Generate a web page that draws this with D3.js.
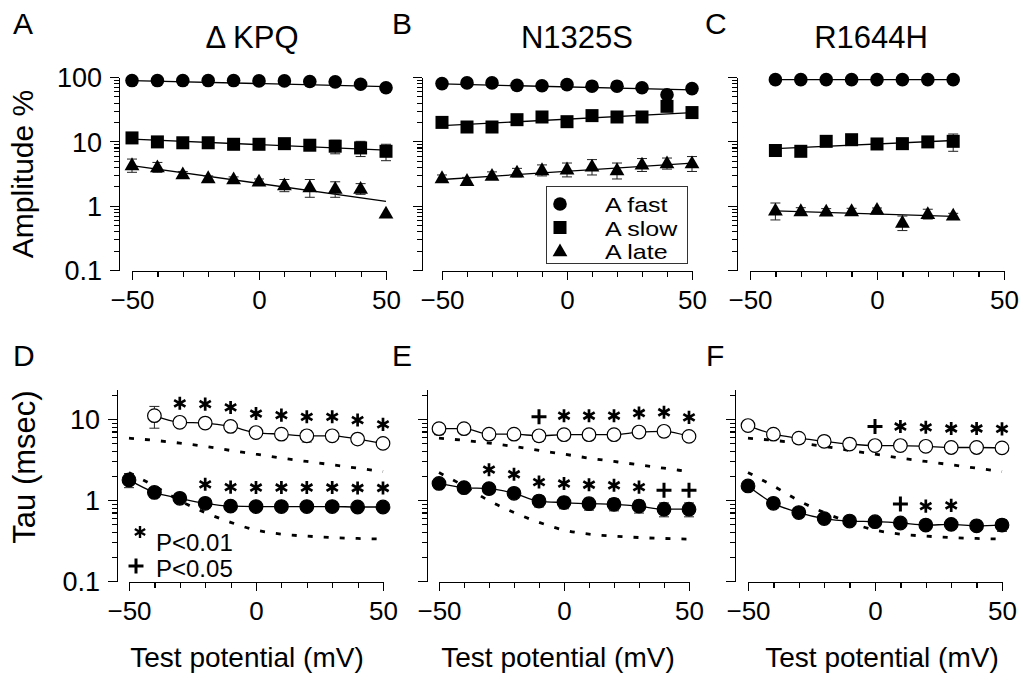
<!DOCTYPE html>
<html>
<head>
<meta charset="utf-8">
<script src="https://cdn.jsdelivr.net/npm/d3@7"></script>
<style>
body { margin: 0; background: #fff; }
svg text { font-family: "Liberation Sans", Arial, Helvetica, sans-serif; fill: #000; }
.axis path, .axis line { stroke: #000; stroke-width: 1.2; shape-rendering: crispEdges; }
</style>
</head>
<body>
<svg id="fig" width="1019" height="681"></svg>
<script>
// test potentials (mV)
var volts = [-50, -40, -30, -20, -10, 0, 10, 20, 30, 40, 50]
var voltsC = [-40, -30, -20, -10, 0, 10, 20, 30]
var voltsFrom40 = [-40, -30, -20, -10, 0, 10, 20, 30, 40, 50]

// amplitudes (%) - dKPQ
var kpqFast = [88, 88, 88, 88, 88, 87, 87, 85, 84, 77, 68]
var kpqFastErr = [0, 0, 0, 0, 0, 0, 0, 0, 0, 0, 0]
var kpqSlow = [11.3, 9.8, 9.5, 9.5, 9.0, 9.0, 9.2, 8.7, 8.4, 7.9, 7.0]
var kpqSlowErr = [1.0, 0.5, 0.4, 0.4, 0.4, 0.4, 0.5, 0.6, 2.0, 2.1, 2.0]
var kpqLate = [4.3, 4.0, 3.1, 2.7, 2.6, 2.4, 2.1, 1.95, 1.85, 1.85, 0.76]
var kpqLateErr = [1.0, 0.7, 0.3, 0.2, 0.2, 0.2, 0.45, 0.6, 0.5, 0.35, 0]
var kpqFastFit = [88, 71]
var kpqSlowFit = [10.8, 7.3]
var kpqLateFit = [4.2, 1.17]

// amplitudes (%) - N1325S
var nsFast = [79, 81, 81, 74, 73, 76, 72, 72, 68, 53, 66]
var nsFastErr = [0, 0, 0, 0, 0, 0, 0, 0, 0, 6, 0]
var nsSlow = [19.7, 16.7, 16.7, 21.7, 23.9, 20.2, 25.1, 23.9, 23.9, 35, 28]
var nsSlowErr = [0, 0, 0, 0, 0, 0, 0, 0, 0, 5, 3]
var nsLate = [2.7, 2.45, 2.95, 3.3, 3.6, 3.7, 4.1, 3.6, 4.4, 4.6, 4.6]
var nsLateErr = [0.3, 0.3, 0.4, 0.5, 0.7, 0.9, 1.1, 1.0, 1.0, 0.9, 1.2]
var nsFastFit = [78, 63]
var nsSlowFit = [17.5, 28]
var nsLateFit = [2.55, 4.6]

// amplitudes (%) - R1644H
var rhFast = [91, 91, 91, 91, 91, 91, 91, 91]
var rhFastErr = [0, 0, 0, 0, 0, 0, 0, 0]
var rhSlow = [7.2, 7.0, 10.0, 10.6, 9.1, 9.2, 9.8, 10.0]
var rhSlowErr = [0.4, 0.3, 0.5, 0.5, 0.5, 0.5, 0.6, 3.0]
var rhLate = [0.85, 0.83, 0.82, 0.83, 0.87, 0.55, 0.75, 0.71]
var rhLateErr = [0.25, 0.1, 0.08, 0.08, 0.05, 0.14, 0.13, 0.05]
var rhFastFit = [91, 91]
var rhSlowFit = [7.7, 10.3]
var rhLateFit = [0.83, 0.68]

// time constants (msec), wild type reference (dotted)
var wtTauSlow = [5.8, 5.45, 5.04, 4.58, 4.09, 3.68, 3.29, 2.99, 2.72, 2.47, 2.24]
var wtTauFast = [2.18, 1.49, 0.98, 0.70, 0.53, 0.425, 0.379, 0.358, 0.344, 0.335, 0.329]

var kpqTauSlow = [11.0, 9.1, 8.9, 8.1, 6.8, 6.5, 6.2, 6.2, 5.65, 5.0]
var kpqTauSlowErr = [3.3, 0.5, 0.4, 0.4, 0.4, 0.5, 1.0, 0.5, 0.5, 0.4]
var kpqTauSlowSig = ['', '*', '*', '*', '*', '*', '*', '*', '*', '*']
var kpqTauFast = [1.77, 1.24, 1.05, 0.91, 0.84, 0.83, 0.83, 0.83, 0.83, 0.82, 0.82]
var kpqTauFastErr = [0.35, 0.05, 0.05, 0.05, 0.05, 0.05, 0.05, 0.05, 0.05, 0.06, 0.08]
var kpqTauFastSig = ['', '', '', '*', '*', '*', '*', '*', '*', '*', '*']

var nsTauSlow = [7.6, 7.6, 6.5, 6.5, 6.2, 6.4, 6.4, 6.4, 6.9, 7.05, 6.1]
var nsTauSlowErr = [1.2, 0.4, 0.5, 0.5, 0.9, 0.6, 0.9, 0.7, 0.8, 1.0, 0.8]
var nsTauSlowSig = ['', '', '', '', '+', '*', '*', '*', '*', '*', '*']
var nsTauFast = [1.6, 1.42, 1.38, 1.21, 0.97, 0.93, 0.9, 0.885, 0.84, 0.77, 0.77]
var nsTauFastErr = [0.1, 0.05, 0.08, 0.08, 0.15, 0.15, 0.15, 0.15, 0.15, 0.15, 0.15]
var nsTauFastSig = ['', '', '*', '*', '*', '*', '*', '*', '*', '+', '+']

var rhTauSlow = [8.3, 6.5, 5.8, 5.3, 4.9, 4.7, 4.7, 4.6, 4.45, 4.45, 4.4]
var rhTauSlowErr = [1.0, 0.8, 0.8, 0.3, 0.4, 0.3, 0.3, 0.3, 0.3, 0.3, 0.5]
var rhTauSlowSig = ['', '', '', '', '', '+', '*', '*', '*', '*', '*']
var rhTauFast = [1.49, 0.91, 0.70, 0.59, 0.55, 0.54, 0.52, 0.49, 0.5, 0.48, 0.49]
var rhTauFastErr = [0.05, 0.04, 0.04, 0.03, 0.03, 0.04, 0.04, 0.04, 0.04, 0.04, 0.08]
var rhTauFastSig = ['', '', '', '', '', '', '+', '*', '*', '', '']

var ampTicks = [0.1, 1, 10, 100]
var tauTicks = [0.1, 1, 10]
var xLabelTicks = [-50, 0, 50]
var legendNames = ['A fast', 'A slow', 'A late']

var svg = d3.select('#fig')

function logMinors(lo, hi) {
    var out = []
    for (var d = -1; d <= 2; d++) {
        for (var m = 2; m <= 9; m++) {
            var v = m * Math.pow(10, d)
            if (v > lo && v < hi) out.push(v)
        }
    }
    return out
}

function drawYAxis(y, axisX, majors, minors, labels) {
    svg.append('g').attr('class', 'axis').attr('transform', `translate(${axisX},0)`)
        .call(d3.axisLeft(y).tickValues(minors).tickSize(5).tickFormat(''))
        .call(g => g.select('.domain').remove())
    var ax = svg.append('g').attr('class', 'axis').attr('transform', `translate(${axisX},0)`)
        .call(d3.axisLeft(y).tickValues(majors).tickSize(9).tickSizeOuter(0).tickPadding(8)
            .tickFormat(labels ? d3.format('~g') : ''))
    ax.selectAll('text').style('font-size', '27px').attr('dy', '0.36em')
}

function drawXAxis(x, axisY) {
    var minors = d3.range(-50, 51, 10).filter(v => xLabelTicks.indexOf(v) < 0)
    svg.append('g').attr('class', 'axis').attr('transform', `translate(0,${axisY})`)
        .call(d3.axisBottom(x).tickValues(minors).tickSize(6).tickFormat(''))
        .call(g => g.select('.domain').remove())
    var ax = svg.append('g').attr('class', 'axis').attr('transform', `translate(0,${axisY})`)
        .call(d3.axisBottom(x).tickValues(xLabelTicks).tickSize(9).tickSizeOuter(0).tickPadding(11))
    ax.selectAll('text').style('font-size', '26px').attr('dy', '0.71em')
}

function errBars(g, xs, vals, errs, x, y) {
    xs.forEach(function (v, i) {
        if (!errs[i]) return
        var lo = y(Math.max(vals[i] - errs[i], 0.05)), hi = y(vals[i] + errs[i])
        g.append('line').attr('x1', x(v)).attr('x2', x(v)).attr('y1', lo).attr('y2', hi)
            .attr('stroke', '#222').attr('stroke-width', 1)
        ;[lo, hi].forEach(function (yy) {
            g.append('line').attr('x1', x(v) - 5).attr('x2', x(v) + 5).attr('y1', yy).attr('y2', yy)
                .attr('stroke', '#222').attr('stroke-width', 1)
        })
    })
}

function marker(g, shape, cx, cy) {
    if (shape == 'circle') {
        g.append('circle').attr('cx', cx).attr('cy', cy).attr('r', 6.8).attr('fill', '#000')
    } else if (shape == 'square') {
        g.append('rect').attr('x', cx - 6.5).attr('y', cy - 6.5).attr('width', 13).attr('height', 13).attr('fill', '#000')
    } else {
        g.append('path').attr('d', d3.symbol(d3.symbolTriangle).size(95)())
            .attr('transform', `translate(${cx},${cy + 1})`).attr('fill', '#000')
    }
}

// ---------- top row: amplitudes ----------
var topPanels = [
    { letter: 'A', letterX: 13, title: 'Δ KPQ', titleX: 252, axisX: 119, x0: 132, x1: 386, labels: true, xs: volts,
      series: [[kpqFast, kpqFastErr, kpqFastFit, 'circle'], [kpqSlow, kpqSlowErr, kpqSlowFit, 'square'], [kpqLate, kpqLateErr, kpqLateFit, 'triangle']] },
    { letter: 'B', letterX: 392, title: 'N1325S', titleX: 577, axisX: 422, x0: 442, x1: 692, labels: false, xs: volts,
      series: [[nsFast, nsFastErr, nsFastFit, 'circle'], [nsSlow, nsSlowErr, nsSlowFit, 'square'], [nsLate, nsLateErr, nsLateFit, 'triangle']] },
    { letter: 'C', letterX: 705, title: 'R1644H', titleX: 871, axisX: 737, x0: 750, x1: 1004, labels: false, xs: voltsC,
      series: [[rhFast, rhFastErr, rhFastFit, 'circle'], [rhSlow, rhSlowErr, rhSlowFit, 'square'], [rhLate, rhLateErr, rhLateFit, 'triangle']] }
]

topPanels.forEach(function (p) {
    var x = d3.scaleLinear().domain([-50, 50]).range([p.x0, p.x1])
    var y = d3.scaleLog().domain([0.1, 100]).range([270, 77])
    drawYAxis(y, p.axisX, ampTicks, logMinors(0.1, 100), p.labels)
    drawXAxis(x, 271)

    svg.append('text').attr('x', p.letterX).attr('y', 34).style('font-size', '30px').text(p.letter)
    svg.append('text').attr('x', p.titleX).attr('y', 48).attr('text-anchor', 'middle').style('font-size', '31px').text(p.title)

    var g = svg.append('g')
    p.series.forEach(function (s) {
        var vals = s[0], errs = s[1], fit = s[2]
        var xs = p.xs
        g.append('line')
            .attr('x1', x(xs[0])).attr('x2', x(xs[xs.length - 1]))
            .attr('y1', y(fit[0])).attr('y2', y(fit[1]))
            .attr('stroke', '#000').attr('stroke-width', 1.3)
        errBars(g, xs, vals, errs, x, y)
        xs.forEach(function (v, i) { marker(g, s[3], x(v), y(vals[i])) })
    })
})

svg.append('text').attr('transform', 'translate(33,174) rotate(-90)').attr('text-anchor', 'middle')
    .style('font-size', '30px').text('Amplitude %')

// legend in panel B
var leg = svg.append('g')
leg.append('rect').attr('x', 546.5).attr('y', 186.5).attr('width', 141).attr('height', 77)
    .attr('fill', '#fff').attr('stroke', '#333').attr('stroke-width', 1)
;['circle', 'square', 'triangle'].forEach(function (shape, i) {
    marker(leg, shape, 560, 204 + i * 23.5)
    leg.append('text').attr('transform', `translate(605,${212 + i * 23.5}) scale(1.22,1)`)
        .style('font-size', '20.5px').text(legendNames[i])
})

// ---------- bottom row: time constants ----------
var botPanels = [
    { letter: 'D', letterX: 13, axisX: 117, x0: 129, x1: 383, labels: true, titleX: 247,
      slowXs: voltsFrom40, slow: kpqTauSlow, slowErr: kpqTauSlowErr, slowSig: kpqTauSlowSig,
      fast: kpqTauFast, fastErr: kpqTauFastErr, fastSig: kpqTauFastSig },
    { letter: 'E', letterX: 392, axisX: 427, x0: 439, x1: 689, labels: false, titleX: 558,
      slowXs: volts, slow: nsTauSlow, slowErr: nsTauSlowErr, slowSig: nsTauSlowSig,
      fast: nsTauFast, fastErr: nsTauFastErr, fastSig: nsTauFastSig },
    { letter: 'F', letterX: 706, axisX: 735, x0: 748, x1: 1002, labels: false, titleX: 882,
      slowXs: volts, slow: rhTauSlow, slowErr: rhTauSlowErr, slowSig: rhTauSlowSig,
      fast: rhTauFast, fastErr: rhTauFastErr, fastSig: rhTauFastSig }
]

botPanels.forEach(function (p) {
    var x = d3.scaleLinear().domain([-50, 50]).range([p.x0, p.x1])
    var y = d3.scaleLog().domain([0.1, 23]).range([581, 581 - 81 * Math.log10(230)])
    drawYAxis(y, p.axisX, tauTicks, logMinors(0.1, 23), p.labels)
    drawXAxis(x, 582)

    svg.append('text').attr('x', p.letterX).attr('y', 366).style('font-size', '30px').text(p.letter)
    svg.append('text').attr('x', p.titleX).attr('y', 667).attr('text-anchor', 'middle')
        .style('font-size', '28px').text('Test potential (mV)')

    var g = svg.append('g')
    var dashed = d3.line().x((d, i) => x(volts[i])).y(d => y(d)).curve(d3.curveMonotoneX)
    ;[wtTauSlow, wtTauFast].forEach(function (wt) {
        g.append('path').attr('d', dashed(wt)).attr('fill', 'none').attr('stroke', '#000')
            .attr('stroke-width', 2.8).attr('stroke-dasharray', '5,11')
    })

    var solid = d3.line().x(d => x(d[0])).y(d => y(d[1])).curve(d3.curveMonotoneX)
    var sets = [[p.slowXs, p.slow, p.slowErr, p.slowSig, '#fff'], [volts, p.fast, p.fastErr, p.fastSig, '#000']]
    sets.forEach(function (s) {
        var xs = s[0], vals = s[1]
        g.append('path').attr('d', solid(xs.map((v, i) => [v, vals[i]])))
            .attr('fill', 'none').attr('stroke', '#000').attr('stroke-width', 1.3)
        errBars(g, xs, vals, s[2], x, y)
        xs.forEach(function (v, i) {
            g.append('circle').attr('cx', x(v)).attr('cy', y(vals[i])).attr('r', 6.8)
                .attr('fill', s[4]).attr('stroke', '#000').attr('stroke-width', 1.2)
            var sig = s[3][i]
            if (sig) {
                var sym = sig == '*' ? d3.symbol(d3.symbolAsterisk).size(120) : d3.symbol(d3.symbolPlus).size(75)
                g.append('path').attr('d', sym()).attr('transform', `translate(${x(v)},${y(vals[i]) - 19})`)
                    .attr('fill', 'none').attr('stroke', '#000').attr('stroke-width', sig == '*' ? 2.7 : 3)
            }
        })
    })
})

svg.append('text').attr('transform', 'translate(35,467) rotate(-90)').attr('text-anchor', 'middle')
    .style('font-size', '31px').text('Tau (msec)')

// significance key in panel D
svg.append('path').attr('d', d3.symbol(d3.symbolAsterisk).size(100)()).attr('transform', 'translate(140,532)')
    .attr('fill', 'none').attr('stroke', '#000').attr('stroke-width', 2.4)
svg.append('text').attr('x', 156).attr('y', 551).style('font-size', '24px').text('P<0.01')
svg.append('path').attr('d', d3.symbol(d3.symbolPlus).size(75)()).attr('transform', 'translate(136,566)')
    .attr('fill', 'none').attr('stroke', '#000').attr('stroke-width', 3)
svg.append('text').attr('x', 156).attr('y', 577).style('font-size', '24px').text('P<0.05')
</script>
</body>
</html>
